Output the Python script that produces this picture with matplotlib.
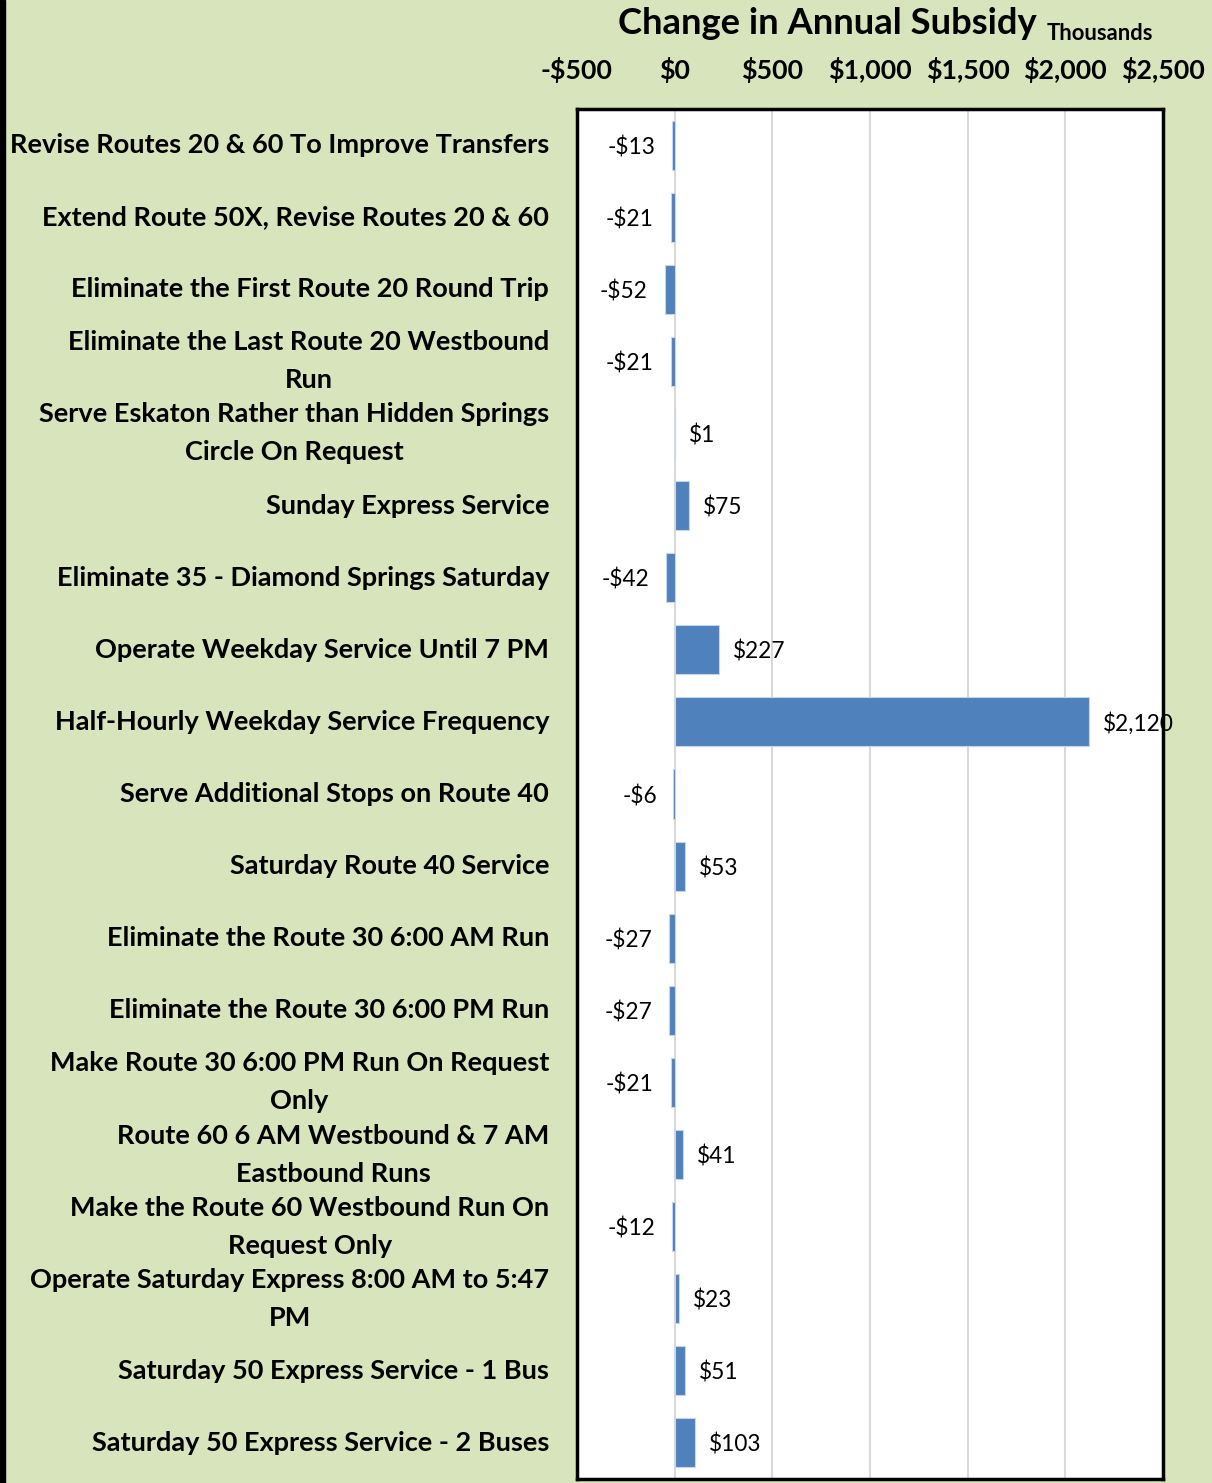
import matplotlib.pyplot as plt
from matplotlib.patches import Rectangle

categories = [
    "Revise Routes 20 & 60 To Improve Transfers",
    "Extend Route 50X, Revise Routes 20 & 60",
    "Eliminate the First Route 20 Round Trip",
    "Eliminate the Last Route 20 Westbound\nRun",
    "Serve Eskaton Rather than Hidden Springs\nCircle On Request",
    "Sunday Express Service",
    "Eliminate 35 - Diamond Springs Saturday",
    "Operate Weekday Service Until 7 PM",
    "Half-Hourly Weekday Service Frequency",
    "Serve Additional Stops on Route 40",
    "Saturday Route 40 Service",
    "Eliminate the Route 30 6:00 AM Run",
    "Eliminate the Route 30 6:00 PM Run",
    "Make Route 30 6:00 PM Run On Request\nOnly",
    "Route 60 6 AM Westbound & 7 AM\nEastbound Runs",
    "Make the Route 60 Westbound Run On\nRequest Only",
    "Operate Saturday Express 8:00 AM to 5:47\nPM",
    "Saturday 50 Express Service - 1 Bus",
    "Saturday 50 Express Service - 2 Buses",
]
subsidy = [-13, -21, -52, -21, 1, 75, -42, 227, 2120, -6, 53, -27, -27, -21, 41, -12, 23, 51, 103]
xticks = [-500, 0, 500, 1000, 1500, 2000, 2500]
xtick_labels = ["-$500", "$0", "$500", "$1,000", "$1,500", "$2,000", "$2,500"]

bg = "#D8E4BC"
bar_color = "#4F81BD"
font = "Lato"

fig = plt.figure(figsize=(12.12, 14.83), dpi=100, facecolor=bg)
ax = fig.add_axes([577 / 1212, 1 - 1479 / 1483, (1163 - 577) / 1212, (1479 - 109) / 1483])
ax.set_facecolor("white")

pos = list(range(len(categories)))
ax.barh(pos, subsidy, height=0.68, color=bar_color, edgecolor="#C5D5EA", linewidth=0.8, zorder=3)

for y, v in zip(pos, subsidy):
    lab = f"-${abs(v):,}" if v < 0 else f"${v:,}"
    if v < 0:
        ax.annotate(lab, (v, y), xytext=(-12, 0), textcoords="offset points",
                    ha="right", va="center_baseline", fontsize=16.3, family=font, zorder=4)
    else:
        ax.annotate(lab, (v, y), xytext=(10, 0), textcoords="offset points",
                    ha="left", va="center_baseline", fontsize=16.3, family=font, zorder=4)

ax.set_xlim(-500, 2500)
ax.set_ylim(len(categories) - 0.5, -0.5)
ax.set_xticks(xticks)
ax.set_xticklabels(xtick_labels, fontsize=19.3, fontweight="bold", family=font)
ax.xaxis.tick_top()
ax.tick_params(axis="x", length=0, pad=18.5)
ax.set_yticks(pos)
ax.set_yticklabels(categories, fontsize=19.5, fontweight="bold", family=font,
                   multialignment="center", linespacing=1.7, va="center")
ax.tick_params(axis="y", length=0, pad=20)
ax.grid(axis="x", color="#D9D9D9", linewidth=1.5, zorder=0)
for s in ax.spines.values():
    s.set_linewidth(2.5)
    s.set_color("black")

fig.text(827 / 1212, 1 - 23 / 1483, "Change in Annual Subsidy", ha="center", va="center",
         fontsize=26.2, fontweight="bold", family=font)
fig.text(1100 / 1212, 1 - 33 / 1483, "Thousands", ha="center", va="center",
         fontsize=15.8, fontweight="bold", family=font)

fig.patches.append(Rectangle((0, 0), 5 / 1212, 1, transform=fig.transFigure, color="black", zorder=5))

fig.savefig("out.png", dpi=100, facecolor=bg)
